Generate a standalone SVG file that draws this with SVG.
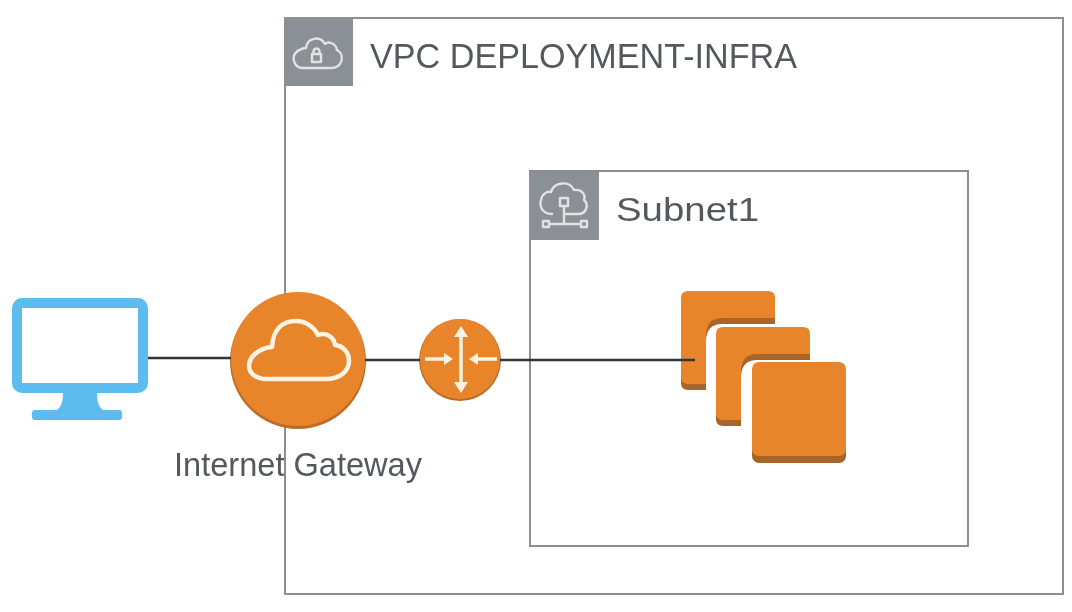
<svg xmlns="http://www.w3.org/2000/svg" width="1072" height="612" viewBox="0 0 1072 612">
<defs>
<style>
.box{fill:#fff;stroke:#8e8e8e;stroke-width:2}
.hdr{fill:#8b9096}
.ico{fill:none;stroke:#e2e2e2;stroke-width:2.400;stroke-linejoin:round;stroke-linecap:round}
.lbl{font-family:"Liberation Sans","Open Sans",Arial,sans-serif;fill:#55585c}
.conn{stroke:#33353a;stroke-width:2.400;fill:none}
.or{fill:#e8842a}
.dk{fill:#a8652a}
.wh{fill:none;stroke:#fdf3e4;stroke-width:4.500;stroke-linejoin:round;stroke-linecap:round}
.arr{fill:#fdf3e4}
</style>
<filter id="soft" filterUnits="userSpaceOnUse" x="0" y="0" width="1072" height="612"><feGaussianBlur stdDeviation="0.7"/></filter>
<path id="stack" d="M7 0H87q7 0 7 7V27H41Q25 27 25 45V93H7q-7 0-7-7V7q0-7 7-7z"/>
</defs>
<rect width="1072" height="612" fill="#fff"/>
<g filter="url(#soft)">
<g id="vpc">
<rect class="box" x="285" y="18" width="778" height="576"/>
<rect class="hdr" x="285" y="18" width="68" height="68"/>
<path class="ico" d="M303 68h28c12 0 14-14 6-18c-1-7-9-9-12-6c-5-9-18-6-19 4c-9 1-14 7-12 13c1 4 4 7 9 7z"/>
<rect class="ico" x="312" y="54" width="9" height="8" stroke-width="1.800"/>
<path class="ico" d="M313.500 54v-2.500a3 3 0 0 1 6 0v2.500" stroke-width="1.800"/>
<text class="lbl" x="370" y="68" font-size="35" textLength="427" lengthAdjust="spacingAndGlyphs">VPC DEPLOYMENT-INFRA</text>
</g>
<g id="subnet">
<rect class="box" x="530" y="171" width="438" height="375"/>
<rect class="hdr" x="530" y="171" width="69" height="69"/>
<path class="ico" d="M552 214c-9 0-13-7-11-14c1-6 6-9 10-8c3-10 18-12 23-2c8-1 12 5 10 10c5 4 3 14-6 14h-12"/>
<path class="ico" d="M564 206V224M549 224H581"/>
<rect class="ico" x="560" y="198" width="8" height="8"/>
<rect class="ico" x="543" y="221" width="6" height="6"/>
<rect class="ico" x="581" y="221" width="6" height="6"/>
<text class="lbl" x="616" y="221" font-size="34" textLength="143" lengthAdjust="spacingAndGlyphs">Subnet1</text>
</g>
<g id="computer">
<rect x="17" y="303" width="126" height="85" rx="5" fill="#fff" stroke="#5cbcf0" stroke-width="10"/>
<path d="M63 393h34c0 7 1 13 6 17h17c3 0 3 10 0 10H34c-3 0-3-10 0-10h23c5-4 6-10 6-17z" fill="#5cbcf0"/>
</g>
<g id="internet-gateway">
<circle cx="298" cy="361" r="68" fill="#b96d28"/>
<circle class="or" cx="298" cy="359" r="67"/>
<path class="wh" d="M267 379h59c14 0 23-8 23-18c0-9-6-15-14-16c-1-8-9-13-17-10c-4-8-12-14-22-14c-14 0-23 9-24 26c-12 1-23 9-23 19c0 8 8 13 18 13z"/>
<text class="lbl" x="174" y="476" font-size="33" textLength="248" lengthAdjust="spacingAndGlyphs">Internet Gateway</text>
</g>
<g id="router">
<circle cx="460" cy="360" r="41" fill="#b96d28"/>
<circle class="or" cx="460" cy="359" r="40"/>
<path d="M461 335V386M425 359H446M497 359H476" fill="none" stroke="#fdf3e4" stroke-width="3.500"/>
<path class="arr" d="M461 326l7 11h-14zM461 393l7-11h-14zM453 359l-9-6v12zM469 359l9-6v12z"/>
</g>
<g id="instances">
<use href="#stack" class="dk" x="681" y="297"/>
<use href="#stack" class="or" x="681" y="291"/>
<use href="#stack" class="dk" x="716" y="333"/>
<use href="#stack" class="or" x="716" y="327"/>
<rect class="dk" x="752" y="365" width="94" height="98" rx="7"/>
<rect class="or" x="752" y="362" width="94" height="94" rx="7"/>
</g>
<g id="connectors">
<path class="conn" d="M148 358H231"/>
<path class="conn" d="M365 360H420"/>
<path class="conn" d="M500 360H695"/>
</g>
</g>
</svg>
